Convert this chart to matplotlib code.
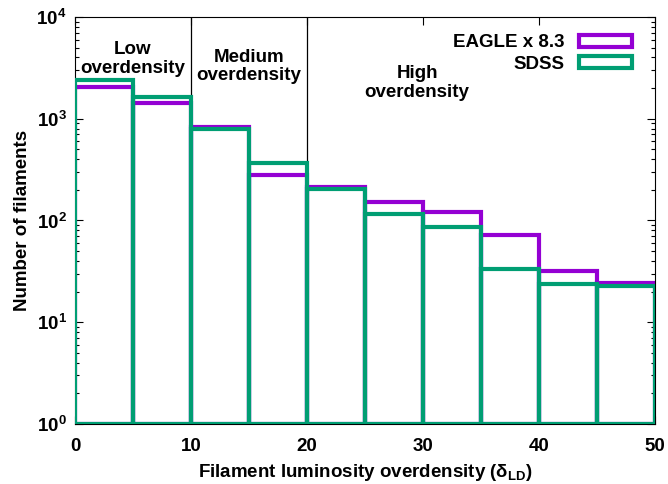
import numpy as np
import matplotlib
matplotlib.use("Agg")
import matplotlib.pyplot as plt
from matplotlib.patches import Patch
from matplotlib.ticker import LogLocator, FixedLocator

plt.rcParams['font.family'] = ['Liberation Sans', 'DejaVu Sans']
plt.rcParams['font.weight'] = 'bold'
plt.rcParams['mathtext.fontset'] = 'custom'
plt.rcParams['mathtext.rm'] = 'Liberation Sans:bold'
plt.rcParams['mathtext.bf'] = 'Liberation Sans:bold'
plt.rcParams['mathtext.it'] = 'Liberation Sans:bold'

bin_edges = [0, 5, 10, 15, 20, 25, 30, 35, 40, 45, 50]
eagle = [2030, 1420, 820, 277, 215, 153, 121, 72, 32, 24.3]
sdss = [2400, 1650, 800, 365, 206, 115, 86, 33, 24, 22.7]
labels = ["EAGLE x 8.3", "SDSS"]
colors = ["#9400D3", "#009E73"]
regions = ["Low\noverdensity", "Medium\noverdensity", "High\noverdensity"]
region_x = [5, 15, 29.5]
region_y = [3870, 3240, 2250]
region_bounds = [10, 20]

FS = 13.5

fig = plt.figure(figsize=(6.68, 4.84), dpi=100)
ax = fig.add_axes([0.1123, 0.124, 0.868, 0.841])
ax.set_yscale('log')
ax.set_xlim(0, 50)
ax.set_ylim(1, 1e4)

for b in region_bounds:
    ax.axvline(b, color='black', lw=0.9, zorder=1)

left = np.array(bin_edges[:-1])
width = np.diff(bin_edges)
for vals, c, z in [(eagle, colors[0], 2), (sdss, colors[1], 3)]:
    v = np.array(vals)
    ax.bar(left, v - 1, width=width, bottom=1, align='edge', fill=False,
           edgecolor=c, lw=3, zorder=z)

for t, x, y in zip(regions, region_x, region_y):
    ax.text(x, y, t, ha='center', va='center', fontsize=FS, fontweight='bold',
            linespacing=1.1)

handles = [Patch(facecolor='none', edgecolor=c, lw=3) for c in colors]
leg = ax.legend(handles, labels, loc='upper right', frameon=False,
                prop={'size': FS, 'weight': 'bold'}, markerfirst=False,
                handlelength=2.8, handleheight=0.6, labelspacing=0.25,
                bbox_to_anchor=(0.98, 0.985), borderaxespad=0.2,
                handletextpad=0.8)

ax.xaxis.set_major_locator(FixedLocator(bin_edges[::2]))
ax.yaxis.set_major_locator(LogLocator(base=10, numticks=10))
ax.yaxis.set_minor_locator(LogLocator(base=10, subs=np.arange(2, 10), numticks=10))
ax.yaxis.set_minor_formatter(matplotlib.ticker.NullFormatter())
ax.tick_params(which='both', direction='in', top=True, right=True, labelsize=FS)
ax.tick_params(which='major', length=6, width=0.8)
ax.tick_params(which='minor', length=3, width=0.8)
for lbl in ax.get_xticklabels() + ax.get_yticklabels():
    lbl.set_fontweight('bold')
ax.tick_params(axis='x', pad=10)
ax.tick_params(axis='y', pad=6)

ax.set_xlabel(r"Filament luminosity overdensity ($\delta_{\rm LD}$)",
              fontsize=FS, fontweight='bold', labelpad=5)
ax.set_ylabel("Number of filaments", fontsize=FS, fontweight='bold', labelpad=4)

fig.savefig("out.png", dpi=100)
